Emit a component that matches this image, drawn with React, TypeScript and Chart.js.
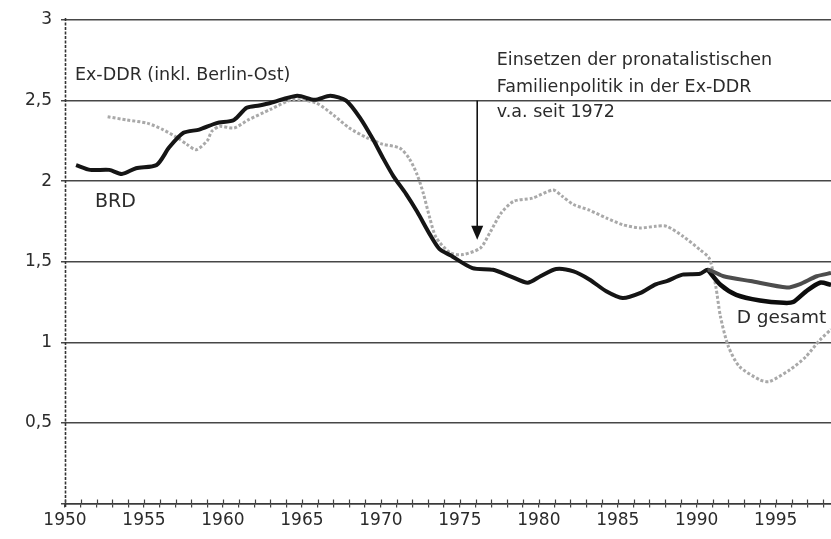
import React, { useEffect, useRef } from "react";
import { Chart, registerables } from "chart.js";

Chart.register(...registerables);

// ---- Data ----
const brdYears = [1950.7, 1951.6, 1952.8, 1953.6, 1954.5, 1955.8, 1956.6, 1957.5, 1958.5, 1959.6, 1960.7, 1961.5, 1962.3, 1963.0, 1964.7, 1965.8, 1966.8, 1967.8, 1968.7, 1969.5, 1970.1, 1970.8, 1971.6, 1972.3, 1973.1, 1973.7, 1974.4, 1975.8, 1977.1, 1978.2, 1979.3, 1980.1, 1981.1, 1982.2, 1983.2, 1984.3, 1985.3, 1986.4, 1987.4, 1988.1, 1989.1, 1990.2, 1990.7, 1991.7, 1993.4, 1995.7, 1996.5, 1997.6, 1998.5];
const brdValues = [2.10, 2.07, 2.07, 2.045, 2.08, 2.10, 2.21, 2.30, 2.32, 2.36, 2.38, 2.455, 2.47, 2.485, 2.53, 2.505, 2.53, 2.50, 2.39, 2.26, 2.15, 2.03, 1.92, 1.81, 1.67, 1.58, 1.54, 1.46, 1.45, 1.41, 1.37, 1.41, 1.455, 1.44, 1.39, 1.315, 1.275, 1.305, 1.36, 1.38, 1.42, 1.425, 1.45, 1.41, 1.38, 1.34, 1.36, 1.41, 1.43];

const dGesamtYears = [1990.7, 1991.5, 1992.5, 1994.0, 1995.5, 1996.1, 1996.9, 1997.8, 1998.5];
const dGesamtValues = [1.45, 1.357, 1.295, 1.26, 1.245, 1.25, 1.315, 1.37, 1.357];

const ddrYears = [1952.7, 1953.9, 1955.2, 1956.2, 1957.1, 1957.7, 1958.3, 1959.0, 1959.3, 1959.8, 1960.7, 1961.6, 1963.0, 1964.4, 1965.9, 1967.0, 1968.0, 1969.1, 1970.1, 1971.2, 1971.8, 1972.3, 1972.7, 1973.1, 1973.5, 1974.4, 1975.2, 1976.3, 1976.9, 1977.6, 1978.4, 1979.6, 1980.9, 1981.5, 1982.2, 1983.2, 1984.3, 1985.3, 1986.4, 1987.4, 1988.1, 1989.1, 1990.2, 1990.8, 1991.2, 1991.5, 1992.0, 1992.7, 1994.0, 1994.6, 1995.9, 1996.9, 1997.8, 1998.5];
const ddrValues = [2.40, 2.38, 2.36, 2.32, 2.27, 2.23, 2.195, 2.25, 2.31, 2.34, 2.33, 2.38, 2.445, 2.505, 2.485, 2.41, 2.33, 2.27, 2.23, 2.205, 2.14, 2.04, 1.92, 1.77, 1.65, 1.555, 1.545, 1.585, 1.68, 1.80, 1.875, 1.895, 1.945, 1.905, 1.855, 1.82, 1.77, 1.73, 1.71, 1.72, 1.72, 1.66, 1.575, 1.52, 1.35, 1.16, 0.975, 0.85, 0.767, 0.757, 0.83, 0.91, 1.015, 1.08];

const xMin = 1950;
const xMax = 1998.5;
const xLabelStep = 5;
const yMin = 0;
const yMax = 3;
const yStep = 0.5;

const reunificationYear = 1990.7;

// annotation anchors (data coordinates)
const arrowYear = 1976.1;
const arrowFrom = 2.5;
const arrowTo = 1.637;
const noteLines = ["Einsetzen der pronatalistischen", "Familienpolitik in der Ex-DDR", "v.a. seit 1972"];
const noteYear = 1977.34;
const noteValues = [2.751, 2.584, 2.429];
const seriesLabels = [
  { text: "Ex-DDR (inkl. Berlin-Ost)", year: 1950.63, value: 2.658, size: 17.5 },
  { text: "BRD", year: 1951.9, value: 1.87, size: 19 },
  { text: "D gesamt", year: 1992.53, value: 1.151, size: 18.5 },
];

const FONT = "'DejaVu Sans', 'Liberation Sans', Arial, sans-serif";
const TEXT_COLOR = "#2b2b2b";

const toPoints = (xs: number[], ys: number[]) => xs.map((x, i) => ({ x, y: ys[i] }));

const annotationPlugin = {
  id: "annotations",
  beforeDatasetsDraw(chart: any) {
    const { ctx, chartArea } = chart;
    ctx.save();
    // dotted vertical y axis line
    ctx.strokeStyle = "#333";
    ctx.lineWidth = 1.6;
    ctx.setLineDash([3, 1.5]);
    ctx.beginPath();
    ctx.moveTo(chartArea.left + 0.5, chartArea.top - 2);
    ctx.lineTo(chartArea.left + 0.5, chartArea.bottom + 4);
    ctx.stroke();
    ctx.restore();
  },
  afterDatasetsDraw(chart: any) {
    const { ctx, chartArea, scales } = chart;
    const xs = scales.x;
    const ys = scales.y;
    ctx.save();

    // crossing year ticks above the x axis
    ctx.strokeStyle = "#444";
    ctx.lineWidth = 1.2;
    for (let yr = Math.ceil(xMin); yr <= xMax; yr++) {
      const px = Math.round(xs.getPixelForValue(yr)) + 0.5;
      ctx.beginPath();
      ctx.moveTo(px, chartArea.bottom);
      ctx.lineTo(px, chartArea.bottom - 4);
      ctx.stroke();
    }

    // arrow
    const ax = xs.getPixelForValue(arrowYear);
    const ay1 = ys.getPixelForValue(arrowFrom);
    const ay2 = ys.getPixelForValue(arrowTo);
    ctx.strokeStyle = "#111";
    ctx.fillStyle = "#111";
    ctx.lineWidth = 1.6;
    ctx.beginPath();
    ctx.moveTo(ax, ay1);
    ctx.lineTo(ax, ay2 - 12);
    ctx.stroke();
    ctx.beginPath();
    ctx.moveTo(ax - 6, ay2 - 14);
    ctx.lineTo(ax + 6, ay2 - 14);
    ctx.lineTo(ax, ay2);
    ctx.closePath();
    ctx.fill();

    // texts
    ctx.fillStyle = TEXT_COLOR;
    ctx.textBaseline = "middle";
    ctx.textAlign = "left";
    ctx.font = `17.5px ${FONT}`;
    noteLines.forEach((line, i) => {
      ctx.fillText(line, xs.getPixelForValue(noteYear), ys.getPixelForValue(noteValues[i]));
    });
    seriesLabels.forEach((l) => {
      ctx.font = `${l.size}px ${FONT}`;
      ctx.fillText(l.text, xs.getPixelForValue(l.year), ys.getPixelForValue(l.value));
    });
    ctx.restore();
  },
};

export default function App() {
  const canvasRef = useRef<HTMLCanvasElement | null>(null);

  useEffect(() => {
    if (!canvasRef.current) return;
    const chart = new Chart(canvasRef.current, {
      type: "line",
      data: {
        datasets: [
          {
            label: "BRD",
            data: toPoints(brdYears, brdValues),
            borderColor: "#151515",
            borderWidth: 4,
            pointRadius: 0,
            tension: 0.25,
            segment: {
              borderColor: (c: any) => (c.p0.parsed.x >= reunificationYear ? "#4d4d4d" : "#151515"),
            },
          },
          {
            label: "D gesamt",
            data: toPoints(dGesamtYears, dGesamtValues),
            borderColor: "#0d0d0d",
            borderWidth: 4.5,
            pointRadius: 0,
            tension: 0.25,
          },
          {
            label: "Ex-DDR (inkl. Berlin-Ost)",
            data: toPoints(ddrYears, ddrValues),
            borderColor: "#a9a9a9",
            borderWidth: 3,
            borderDash: [3, 2],
            pointRadius: 0,
            tension: 0.25,
          },
        ],
      },
      options: {
        responsive: false,
        animation: false,
        layout: { padding: { top: 20, right: 0, left: 0, bottom: 0 } },
        plugins: {
          legend: { display: false },
          tooltip: { enabled: false },
        },
        scales: {
          x: {
            type: "linear",
            min: xMin,
            max: xMax,
            offset: false,
            afterFit: (s: any) => {
              s.height = 35.5;
            },
            afterBuildTicks: (s: any) => {
              const t = [];
              for (let yr = xMin; yr <= xMax; yr++) t.push({ value: yr });
              s.ticks = t;
            },
            ticks: {
              autoSkip: false,
              maxRotation: 0,
              padding: 3,
              color: TEXT_COLOR,
              font: { family: FONT, size: 17 },
              callback: (v: any) => (Number(v) % xLabelStep === 0 ? String(v) : ""),
            },
            grid: {
              drawOnChartArea: false,
              drawTicks: true,
              tickLength: 4,
              color: "#444",
              lineWidth: 1.2,
            },
            border: { display: true, color: "#3a3a3a", width: 1.6 },
          },
          y: {
            type: "linear",
            min: yMin,
            max: yMax,
            afterFit: (s: any) => {
              s.width = 65;
            },
            ticks: {
              stepSize: yStep,
              padding: 9,
              color: TEXT_COLOR,
              font: { family: FONT, size: 17 },
              callback: (v: any) => (Number(v) === 0 ? "" : String(v).replace(".", ",")),
            },
            grid: {
              color: "#474747",
              lineWidth: 1.5,
              tickLength: 4,
            },
            border: { display: false },
          },
        },
      },
      plugins: [annotationPlugin],
    });
    return () => chart.destroy();
  }, []);

  return (
    <div style={{ position: "fixed", left: 0, top: 0, width: 831, height: 539, background: "#fff" }}>
      <canvas ref={canvasRef} width={831} height={539} style={{ display: "block" }} />
    </div>
  );
}
